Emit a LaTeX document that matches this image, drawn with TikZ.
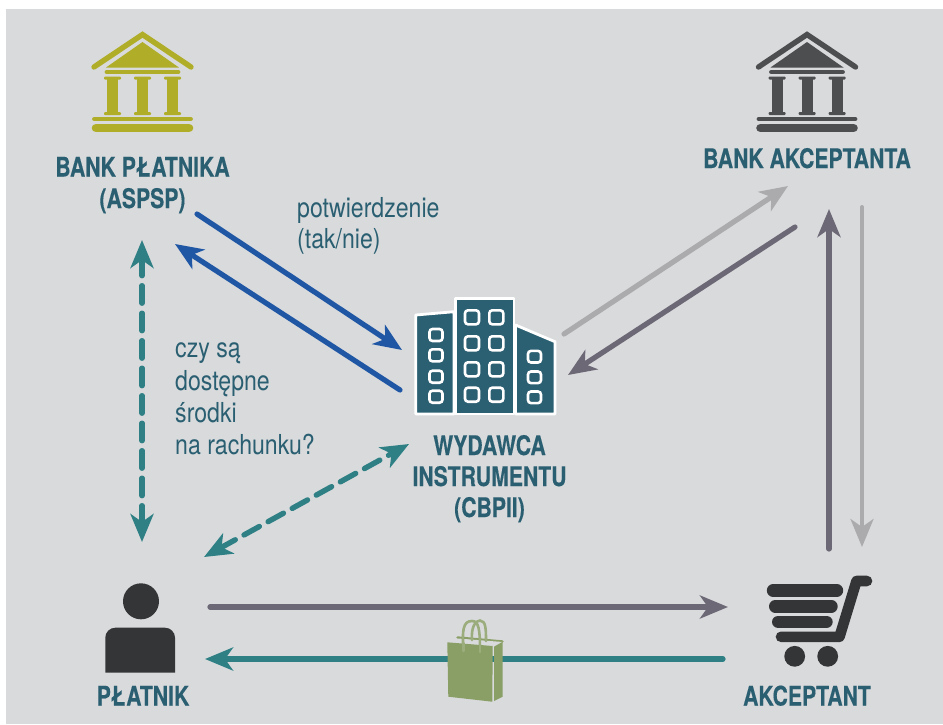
\documentclass[tikz,border=0pt]{standalone}
\usepackage{fontspec}
\setmainfont{TeX Gyre Heros}
\newfontfamily\cndbold[FakeStretch=0.785,FakeBold=0.3]{TeX Gyre Heros Bold}
\newfontfamily\cndreg[FakeStretch=0.84]{TeX Gyre Heros}
\usetikzlibrary{arrows.meta}
\definecolor{bgc}{HTML}{D9DADC}
\definecolor{txtc}{HTML}{2A5F72}
\definecolor{olive}{HTML}{B0AE29}
\definecolor{bankgrey}{HTML}{4D4E50}
\definecolor{iconc}{HTML}{343537}
\definecolor{bluec}{HTML}{1F57A4}
\definecolor{tealc}{HTML}{2E8085}
\definecolor{darkarr}{HTML}{6D6875}
\definecolor{lightarr}{HTML}{ABABAD}
\definecolor{bagc}{HTML}{8A9F66}
\definecolor{bldc}{HTML}{2B5F72}
\tikzset{
  titlelabel/.style={text=txtc,font=\cndbold\fontsize{27}{30}\selectfont,anchor=base,inner sep=0pt},
  notelabel/.style={text=txtc,font=\cndreg\fontsize{27.5}{30}\selectfont,anchor=base west,inner sep=0pt},
  conn/.style={line width=5.2pt,line cap=round,-{Stealth[length=28pt,width=23pt,inset=8pt]}},
  dashconn/.style={line width=5.4pt,line cap=round,tealc,dash pattern=on 17.5pt off 10pt,{Stealth[length=28pt,width=23pt,inset=8pt]}-{Stealth[length=28pt,width=23pt,inset=8pt]}},
  win/.style={draw=white,line width=2.6pt,rounded corners=3pt,fill=bldc},
  bar/.style={line cap=round,line width=#1},
}
\newcommand{\bankicon}[2]{%
  \begin{scope}[xshift=#1pt,#2,fill=#2,draw=#2]
    \draw[line width=5.4pt,line cap=round,line join=miter] (94,67) -- (142.5,34.5) -- (191,67);
    \fill (142.5,42) -- (179,67.5) -- (106,67.5) -- cycle;
    \draw[bar=4.8pt] (107,72) -- (178,72);
    \foreach \c in {112.5,142.5,172.5}{
      \fill[rounded corners=1pt] (\c-8.5,76.5) rectangle (\c+8.5,79.5);
      \fill (\c-5.5,79) rectangle (\c+5.5,113);
      \fill[rounded corners=1pt] (\c-8.5,112) rectangle (\c+8.5,115);
    }
    \draw[bar=4.8pt] (94.5,119) -- (190.5,119);
    \draw[bar=8.6pt] (96,128) -- (189,128);
  \end{scope}}
\begin{document}
\begin{tikzpicture}[x=1pt,y=-1pt]
\useasboundingbox (0,0) rectangle (943,724);
\fill[bgc] (6,9) rectangle (943,724);

% banks
\bankicon{0}{olive}
\bankicon{664.5}{bankgrey}

% building
\begin{scope}[draw=white,line width=2.8pt,line join=round,fill=bldc]
  \filldraw (415.7,315) -- (454,311.7) -- (454,414) -- (415.7,414) -- cycle;
  \filldraw (455.5,298.3) -- (514,298.3) -- (514,414) -- (455.5,414) -- cycle;
  \filldraw (515.5,325) -- (555,341.7) -- (555,414) -- (515.5,414) -- cycle;
\end{scope}
\foreach \y in {335,355.3,376.7,396.7}{\draw[win] (429.5,\y-6) rectangle (442.5,\y+6);}
\foreach \x in {472,496.3}{\foreach \y in {317.3,343.3,369.3,394.7}{\draw[win] (\x-7,\y-7) rectangle (\x+7,\y+7);}}
\foreach \y in {356.7,377.3,397.3}{\draw[win] (528,\y-5.8) rectangle (541,\y+5.8);}

% person
\fill[iconc] (141,601.3) circle (18);
\fill[iconc] (105.3,672.7) -- (105.3,637.7) arc[start angle=180,end angle=90,radius=10pt] -- (165,627.7) arc[start angle=90,end angle=0,radius=10pt] -- (175,672.7) -- cycle;

% cart
\begin{scope}[draw=iconc,fill=iconc]
  \draw[bar=12.4pt] (773,590.5) -- (837,590.5);
  \draw[bar=12.4pt] (775.2,606.3) -- (831.5,606.3);
  \draw[bar=12.4pt] (778.2,621.8) -- (826.5,621.8);
  \draw[line width=10.6pt,line cap=round,line join=round] (781,636.8) -- (839.5,636.8) -- (856.5,581) -- (867,581);
  \fill (794.7,656.3) circle (10.4);
  \fill (827.7,656.3) circle (10.4);
\end{scope}

% connector end points
\coordinate (bp1) at (197,214);   \coordinate (cb1) at (402,350);
\coordinate (cb2) at (400,390);   \coordinate (bp2) at (175,244);
\coordinate (cb3) at (564,334);   \coordinate (ba1) at (788,186);
\coordinate (ba2) at (795,227);   \coordinate (cb4) at (568,375);
\coordinate (ak1) at (829,549);   \coordinate (ba3) at (829,209);
\coordinate (ba4) at (862,207);   \coordinate (ak2) at (862,547);
\coordinate (pl1) at (210,607);   \coordinate (ak3) at (728,607);
\coordinate (ak4) at (723,659);   \coordinate (pl2) at (205,659);
\coordinate (bp3) at (142,240);   \coordinate (pl3) at (142,542);
\coordinate (pl4) at (204,557);   \coordinate (cb5) at (409,444);

\draw[conn,bluec] (bp1) -- (cb1);
\draw[conn,bluec] (cb2) -- (bp2);
\draw[conn,lightarr] (cb3) -- (ba1);
\draw[conn,darkarr] (ba2) -- (cb4);
\draw[conn,darkarr] (ak1) -- (ba3);
\draw[conn,lightarr,line width=4pt] (ba4) -- (ak2);
\draw[conn,darkarr] (pl1) -- (ak3);
\draw[conn,tealc] (ak4) -- (pl2);
\draw[dashconn] (bp3) -- (pl3);
\draw[dashconn] (pl4) -- (cb5);

% shopping bag
\begin{scope}
  \draw[bagc,line width=2.4pt,line cap=round] (457.5,637.5) -- (502.5,641.5);
  \fill[bgc] (447,642) -- (458,638.5) -- (502.7,642) -- (494,647) -- cycle;
  \draw[bagc!85!white,line width=2.6pt,line cap=round] (463.5,651) .. controls (462,630) and (463,621) .. (472,621) .. controls (479,621) and (480,630) .. (480,652);
  \draw[bagc!85!white,line width=2.6pt,line cap=round] (472,640) .. controls (471,628) and (475,620.5) .. (480,620.5) .. controls (486,620.5) and (486,630) .. (486,641);
  \fill[bagc] (447.3,642.3) -- (492.7,646) -- (492.3,701.7) -- (448.3,696.7) -- cycle;
  \fill[bagc] (494,646.7) -- (502.7,641.7) -- (502.7,696.7) -- (494,701) -- cycle;
  \draw[bagc!85!white,line width=2.4pt,line cap=round] (463.5,643) -- (463.5,651);
  \draw[bagc!85!white,line width=2.4pt,line cap=round] (480,645) -- (480,652);
\end{scope}

% labels
\node[titlelabel] (t1) at (142.5,176.5) {BANK PŁATNIKA};
\node[titlelabel] (t2) at (142.5,208) {(ASPSP)};
\node[titlelabel] (t3) at (807,168) {BANK AKCEPTANTA};
\node[titlelabel] (t4) at (489.5,455) {WYDAWCA};
\node[titlelabel] (t5) at (489.5,486) {INSTRUMENTU};
\node[titlelabel] (t6) at (489.5,517) {(CBPII)};
\node[titlelabel] (t7) at (143,705.5) {PŁATNIK};
\node[titlelabel] (t8) at (807,705.5) {AKCEPTANT};
\node[notelabel] (n1) at (297,217) {potwierdzenie};
\node[notelabel] (n2) at (297,248) {(tak/nie)};
\node[notelabel] (n3) at (175,357) {czy są};
\node[notelabel] (n4) at (175,390) {dostępne};
\node[notelabel] (n5) at (175,422) {środki};
\node[notelabel] (n6) at (175,454) {na rachunku?};
\end{tikzpicture}
\end{document}
